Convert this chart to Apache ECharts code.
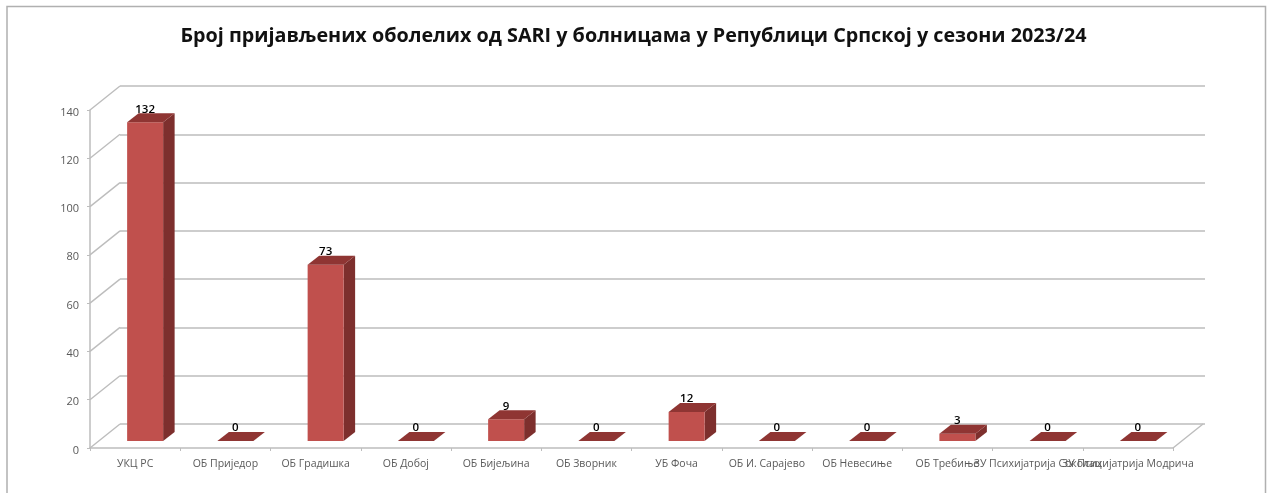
<!DOCTYPE html>
<html><head><meta charset="utf-8">
<style>html,body{margin:0;padding:0;background:#fff}#c{width:1268px;height:493px;filter:blur(0.55px)}</style>
<script src="https://cdn.jsdelivr.net/npm/echarts@6/dist/echarts.min.js"></script>
</head><body><div id="c"></div>
<script>
const titleText = 'Број пријављених оболелих од SARI у болницама у Републици Српској у сезони 2023/24';
const categories = ['УКЦ РС','ОБ Приједор','ОБ Градишка','ОБ Добој','ОБ Бијељина','ОБ Зворник','УБ Фоча','ОБ И. Сарајево','ОБ Невесиње','ОБ Требиње','ЗУ Психијатрија Соколац','ЗУ Психијатрија Модрича'];
const values = [132,0,73,0,9,0,12,0,0,3,0,0];
const yTicks = [0,20,40,60,80,100,120,140];

const chart = echarts.init(document.getElementById('c'), null, {renderer:'canvas'});
const GRID = '#bdbdbd', LABEL = '#595959';
// depth of the box and of the bars, in px
const wallDx = 30, wallDy = -24, barDx = 11.5, barDy = -9, shiftX = 10, shiftY = -7, halfW = 18;

chart.setOption({
  animation:false,
  backgroundColor:'#fff',
  title:{text:titleText,left:628.5,top:21,textAlign:'center',
    textStyle:{fontFamily:'Open Sans',fontSize:19.75,fontWeight:'bold',color:'#111'}},
  grid:[
    {left:90,right:95,top:110,bottom:45},
    {left:120,right:63,top:86,bottom:69}
  ],
  xAxis:[
    {type:'category',gridIndex:0,data:categories,
     axisLine:{show:true,lineStyle:{color:GRID,width:1.5}},
     axisTick:{show:true,alignWithLabel:false,length:3,lineStyle:{color:GRID}},
     axisLabel:{color:LABEL,fontSize:10.5,fontFamily:'Open Sans',margin:11,interval:0,hideOverlap:false},
     splitLine:{show:false}},
    {type:'category',gridIndex:1,data:categories,show:false}
  ],
  yAxis:[
    {type:'value',gridIndex:0,min:0,max:140,interval:20,
     axisLine:{show:true,lineStyle:{color:GRID,width:1.5}},
     axisTick:{show:true,length:3,lineStyle:{color:GRID}},
     axisLabel:{margin:11,formatter:'{a|{value}}',
       rich:{a:{color:LABEL,fontSize:11,fontFamily:'Open Sans',padding:[5,0,0,0]}}},
     splitLine:{show:false}},
    {type:'value',gridIndex:1,min:0,max:140,interval:20,
     axisLine:{show:false},axisTick:{show:false},axisLabel:{show:false},
     splitLine:{show:true,lineStyle:{color:GRID,width:1.5}}}
  ],
  series:[
    { // diagonal lines on the left wall, plus the floor's right edge
      type:'custom',xAxisIndex:0,yAxisIndex:0,silent:true,z:1,
      data:yTicks.map(v=>[0,v]),
      encode:{x:0,y:1},
      renderItem(p,api){
        const bw = api.size([1,0])[0];
        const pt = api.coord([0,api.value(1)]);
        const x = pt[0]-bw/2, y = pt[1];
        const kids=[{type:'line',shape:{x1:x,y1:y,x2:x+wallDx,y2:y+wallDy},style:{stroke:GRID,lineWidth:1.5}}];
        if(api.value(1)===0){
          const xr = x+bw*categories.length;
          kids.push({type:'line',shape:{x1:xr,y1:y,x2:xr+wallDx,y2:y+wallDy},style:{stroke:GRID,lineWidth:1.5}});
        }
        return {type:'group',children:kids};
      }
    },
    { // 3-D looking bars
      type:'custom',xAxisIndex:0,yAxisIndex:0,z:3,clip:false,
      data:values.map((v,i)=>[i,v]),
      encode:{x:0,y:1},
      label:{show:false},
      renderItem(p,api){
        const top = api.coord([api.value(0),api.value(1)]);
        const base = api.coord([api.value(0),0]);
        const cx = top[0]+shiftX;
        const l = cx-halfW, r = cx+halfW, t = top[1]+shiftY, b = base[1]+shiftY;
        const poly=(pts,fill)=>({type:'polygon',shape:{points:pts},style:{fill}});
        return {type:'group',children:[
          poly([[r,t],[r+barDx,t+barDy],[r+barDx,b+barDy],[r,b]],'#7d2f2d'),
          poly([[l,t],[r,t],[r,b],[l,b]],'#c0504d'),
          poly([[l,t],[r,t],[r+barDx,t+barDy],[l+barDx,t+barDy]],'#8f3533'),
          {type:'text',style:{text:String(api.value(1)),x:cx,y:t-13,align:'center',verticalAlign:'middle',
            fill:'#000',fontSize:11.5,fontWeight:600,fontFamily:'Open Sans'},z2:5}
        ]};
      }
    }
  ],
  graphic:[{type:'rect',shape:{x:7,y:6.5,width:1258.5,height:600},style:{fill:'none',stroke:'#b0b0b0',lineWidth:1.5},silent:true}]
});
</script></body></html>
